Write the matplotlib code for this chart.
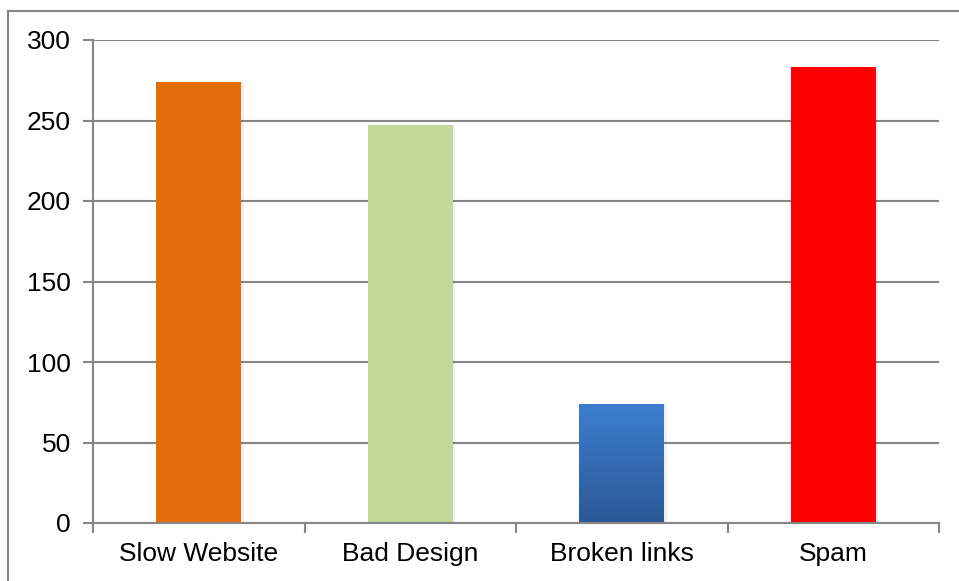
import matplotlib
matplotlib.use('Agg')
import matplotlib.pyplot as plt
import numpy as np
from matplotlib.patches import Rectangle

categories = ['Slow Website', 'Bad Design', 'Broken links', 'Spam']
counts = [274, 247, 74, 283]
colors = ['#E46C0A', '#C4D79B', '#3A7BCA', '#FF0000']

plt.rcParams['font.family'] = ['Liberation Sans', 'DejaVu Sans']
grey = '#868686'

fig = plt.figure(figsize=(9.59, 5.81), dpi=100)
ax = fig.add_axes([93 / 959, 1 - 523 / 581, 846 / 959, 483 / 581])

# outer chart border (runs off the right and bottom edges)
fig.patches.append(Rectangle((8 / 959, -0.2), 1.2, 1.2 - 10.5 / 581,
                             transform=fig.transFigure, fill=False,
                             edgecolor=grey, linewidth=1.5, zorder=0))

x = np.arange(len(categories))
width = 0.40

# faint shadow on the right of each bar
for xi, v in zip(x, counts):
    ax.bar(xi + 0.012, v, width, color='#000000', alpha=0.06, zorder=2)

bars = ax.bar(x, counts, width, color=colors, zorder=3)

# vertical gradient on the blue bar
b = bars[2]
grad = np.linspace(0, 1, 256).reshape(-1, 1)
cmap = matplotlib.colors.LinearSegmentedColormap.from_list('blue', ['#2B5896', '#3C7FCF'])
im = ax.imshow(grad, extent=[b.get_x(), b.get_x() + b.get_width(), 0, b.get_height()],
               origin='lower', aspect='auto', cmap=cmap, zorder=4)
im.set_clip_path(b)

ax.set_xlim(-0.5, 3.5)
ax.set_ylim(0, 300)
ax.set_yticks(range(0, 301, 50))
ax.set_xticks(x)
ax.set_xticklabels(categories)
ax.set_xticks(np.arange(-0.5, 4.0, 1.0), minor=True)

ax.grid(axis='y', color=grey, linewidth=1.5, zorder=1)
for s in ['top', 'right']:
    ax.spines[s].set_visible(False)
for s in ['left', 'bottom']:
    ax.spines[s].set_color(grey)
    ax.spines[s].set_linewidth(1.5)
    ax.spines[s].set_zorder(5)

ax.tick_params(axis='y', length=7, width=1.5, color=grey, labelsize=19, pad=9)
ax.tick_params(axis='x', which='major', length=0, labelsize=19, pad=14)
ax.tick_params(axis='x', which='minor', length=7, width=1.5, color=grey)

fig.savefig('out.png', dpi=100)
